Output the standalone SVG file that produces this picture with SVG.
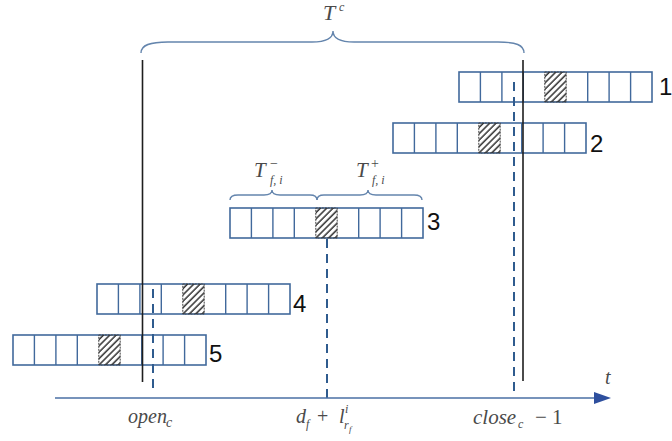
<svg xmlns="http://www.w3.org/2000/svg" xmlns:xlink="http://www.w3.org/1999/xlink" width="672" height="441" viewBox="0 0 672 441">
<style>
.cell{fill:#fff;stroke:#41699c;stroke-width:1.6}
.div{stroke:#41699c;stroke-width:1.4}
.num{font-family:"Liberation Sans",Arial,sans-serif;font-size:24px;fill:#111}
.m{font-family:"Liberation Serif","Times New Roman",serif;font-style:italic;font-size:20px;fill:#4a4a4a}
.mu{font-family:"Liberation Serif","Times New Roman",serif;font-size:20px;fill:#4a4a4a}
.s{font-size:12px}
.solid{stroke:#1e1e1e;stroke-width:1.6}
.dash{stroke:#2f5b8e;stroke-width:2;stroke-dasharray:9 6}
.brace{fill:none;stroke:#6485ad;stroke-width:1.4}
</style>
<defs>
<pattern id="hatch" patternUnits="userSpaceOnUse" width="4.5" height="4.5" patternTransform="rotate(45)">
<line x1="1" y1="0" x2="1" y2="4.5" stroke="#222" stroke-width="1.4"/>
</pattern>
<g id="row">
<rect class="cell" x="0" y="0" width="193" height="30"/>
<rect x="85.8" y="0" width="21.4" height="30" fill="url(#hatch)" stroke="#444" stroke-width="1" stroke-dasharray="2 1"/>
<line class="div" x1="21.4" y1="0" x2="21.4" y2="30"/>
<line class="div" x1="42.9" y1="0" x2="42.9" y2="30"/>
<line class="div" x1="64.3" y1="0" x2="64.3" y2="30"/>
<line class="div" x1="128.7" y1="0" x2="128.7" y2="30"/>
<line class="div" x1="150.1" y1="0" x2="150.1" y2="30"/>
<line class="div" x1="171.6" y1="0" x2="171.6" y2="30"/>
</g>
</defs>
<rect width="672" height="441" fill="#fff"/>

<g id="node-1"><use xlink:href="#row" href="#row" x="459" y="72"/><text class="num" x="659" y="95">1</text></g>
<g id="node-2"><use xlink:href="#row" href="#row" x="393" y="123"/><text class="num" x="590" y="152">2</text></g>
<g id="node-3"><use xlink:href="#row" href="#row" x="230" y="208"/><text class="num" x="427" y="230">3</text></g>
<g id="node-4"><use xlink:href="#row" href="#row" x="97" y="284"/><text class="num" x="293" y="312">4</text></g>
<g id="node-5"><use xlink:href="#row" href="#row" x="13" y="335"/><text class="num" x="209" y="362">5</text></g>

<g id="connectors">
<line class="solid" x1="142.5" y1="60" x2="142.5" y2="382"/>
<line class="solid" x1="523" y1="60" x2="523" y2="381"/>
<line class="dash" x1="514" y1="82" x2="514" y2="394"/>
<line class="dash" x1="153" y1="289" x2="153" y2="394"/>
<line class="dash" x1="327" y1="239" x2="327" y2="398"/>
<line x1="55" y1="398" x2="596" y2="398" stroke="#4a6fa5" stroke-width="1.6"/>
<polygon points="594,392 611,398 594,404" fill="#2e4f9e"/>
<path class="brace" d="M141,53 C141,45 150,42 168,42 L312,42 C326,42 333,38 333,31 C333,38 340,42 354,42 L498,42 C516,42 524,45 524,53"/>
<path class="brace" d="M230,200 C230,196 233,195 238,195 L264,195 C269,195 272,193 272,190 C272,193 275,195 280,195 L310,195 C315,195 317,197 317,200"/>
<path class="brace" d="M317,200 C317,197 319,195 324,195 L360,195 C365,195 368,193 368,190 C368,193 371,195 376,195 L414,195 C419,195 422,196 422,200"/>
</g>

<g id="labels">
<text class="m" x="323" y="20" style="font-size:22px">T</text>
<text class="m s" x="339" y="11">c</text>
<text class="m" x="254" y="177" style="font-size:21px">T</text>
<text class="mu" x="270" y="168" style="font-size:14px">−</text>
<text class="m s" x="270" y="184">f, i</text>
<text class="m" x="356" y="177" style="font-size:21px">T</text>
<text class="mu" x="371" y="168" style="font-size:14px">+</text>
<text class="m s" x="372" y="184">f, i</text>
<text class="m" x="605" y="384">t</text>
<text class="m" x="128" y="423">open</text>
<text class="m" x="166" y="427" style="font-size:14px">c</text>
<text class="m" x="296" y="423">d</text>
<text class="m s" x="306" y="428">f</text>
<text class="mu" x="317" y="423">+</text>
<text class="m" x="339" y="423">l</text>
<text class="m s" x="345" y="413">i</text>
<text class="m s" x="344" y="429">r</text>
<text class="m" x="349" y="432" style="font-size:9px">f</text>
<text class="m" x="473" y="424" style="font-size:21px">close</text>
<text class="m s" x="518" y="428">c</text>
<text class="mu" x="535" y="424" style="font-size:21px">− 1</text>
</g>
</svg>
